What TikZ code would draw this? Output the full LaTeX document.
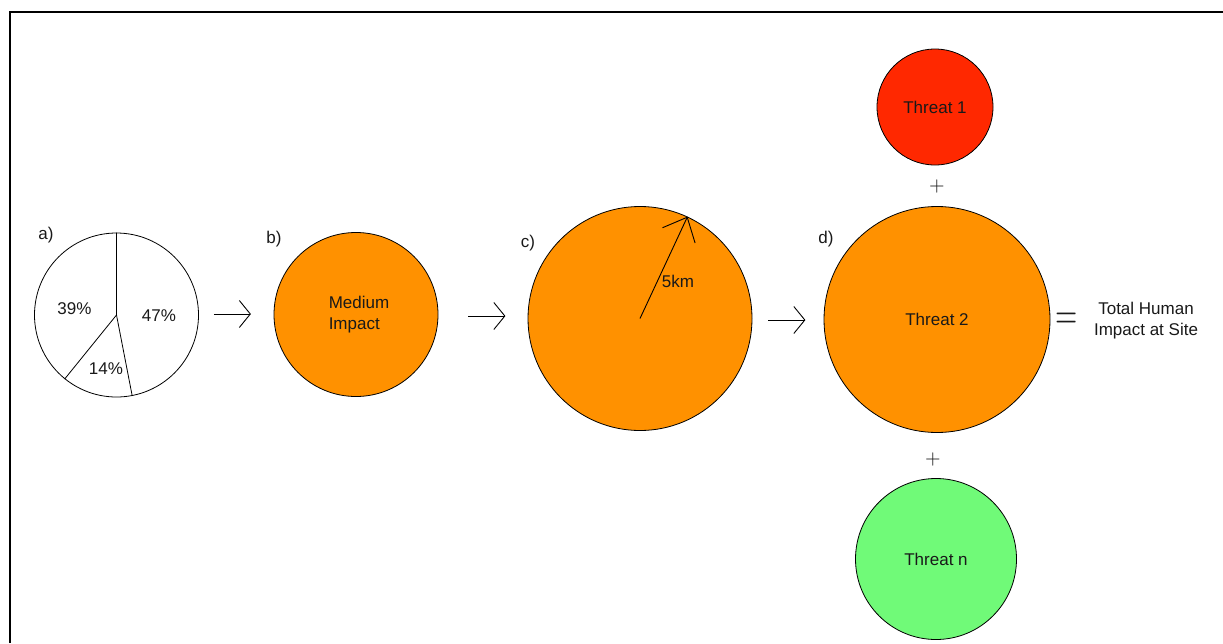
\documentclass[tikz,border=0pt]{standalone}
\usepackage{fontspec}
\setmainfont{Liberation Sans}
\newfontfamily\lmr{lmroman10-regular.otf}
\usetikzlibrary{arrows.meta,calc}
\definecolor{orng}{RGB}{255,145,0}
\definecolor{redc}{RGB}{255,40,0}
\definecolor{grnc}{RGB}{112,250,120}
\definecolor{txt}{RGB}{25,25,25}
\begin{document}
\begin{tikzpicture}[x=1pt,y=-1pt,
  lbl/.style={font=\fontsize{17}{21.5}\selectfont, text=txt, inner sep=0pt},
  disc/.style={circle, draw=black, line width=0.8pt, inner sep=0pt, minimum size=#1,
    font=\fontsize{17}{21.5}\selectfont, text=txt},
  slice/.style={line width=0.8pt},
  flow/.style={line width=0.9pt, -{Straight Barb[length=11pt,width=27pt,line width=0.9pt]}},
  radarrow/.style={line width=0.9pt, -{Straight Barb[length=20pt,width=36pt,line width=0.9pt]}},
  sym/.style={text=txt, inner sep=0pt, anchor=base}
]
\useasboundingbox (0,0) rectangle (1223,643);
\draw[line width=2pt] (9.7,643) -- (9.7,12.3) -- (1223,12.3);

% a) pie
\node[disc=164pt, fill=white] (pie) at (116.5,315) {};
\draw[slice] (pie.north) -- (pie.center) -- (pie.-79.2);
\draw[slice] (pie.center) -- (pie.-129.6);
\node[lbl] (p39) at (74.5,309) {39\%};
\node[lbl] (p47) at (159,316) {47\%};
\node[lbl] (p14) at (106,369) {14\%};
\node[lbl] (la) at (46,235) {a)};

% b)
\node[disc=164pt, fill=orng, align=left] (b) at (356,314.5) {\hspace*{6pt}Medium\\\hspace*{6pt}Impact};
\node[lbl] (lb) at (274,239) {b)};

% c)
\node[disc=224pt, fill=orng] (c) at (640,318.5) {};
\draw[radarrow] (c.center) -- (c.65.3);
\node[lbl] (km) at (678,281) {5km};
\node[lbl] (lc) at (528,243) {c)};

% d)
\node[disc=226pt, fill=orng] (d) at (937,319.5) {Threat 2};
\node[lbl] (ld) at (826,239) {d)};
\node[disc=116pt, fill=redc] (t1) at (935,107) {Threat 1};
\node[disc=161pt, fill=grnc] (tn) at (936,559) {Threat n};
\node[sym, font=\lmr\fontsize{20}{20}\selectfont] (plus1) at (937,191) {+};
\node[sym, font=\lmr\fontsize{20}{20}\selectfont] (plus2) at (933,464) {+};
\node[sym, font=\lmr\fontsize{42}{42}\selectfont, xscale=0.68, transform shape] (eq) at (1067,328.5) {=};
\node[lbl, align=center] (tot) at (1146,320.5) {Total Human\\Impact at Site};

% arrows
\draw[flow] ($(pie.east)+(15,-1)$) -- ++(37,0);
\draw[flow] ($(b.east)+(30,1.5)$) -- ++(37,0);
\draw[flow] ($(c.east)+(16,1.5)$) -- ++(37,0);
\end{tikzpicture}
\end{document}
